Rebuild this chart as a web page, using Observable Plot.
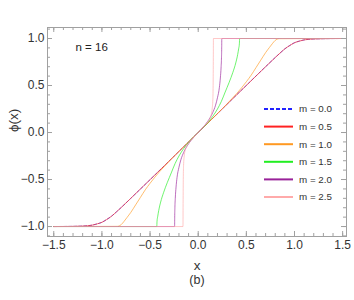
<!DOCTYPE html>
<html><head><meta charset="utf-8">
<script src="https://cdn.jsdelivr.net/npm/d3@7"></script>
<script src="https://cdn.jsdelivr.net/npm/@observablehq/plot@0.6"></script>
<style>
body{margin:0;background:#fff;font-family:"Liberation Sans",Arial,sans-serif}
#wrap{position:relative;width:354px;height:300px}
#legend{position:absolute;left:0;top:0;pointer-events:none}
</style></head><body><div id="wrap"></div>
<script>
// ---- data ----
const seriesLabels = ["m = 0.0","m = 0.5","m = 1.0","m = 1.5","m = 2.0","m = 2.5"];
const seriesColors = ["#2222ff","#ff2222","#ff9922","#22ee22","#992299","#ffaaaa"];
const nLabel = "n = 16";

const m00X = [-1.5,-1.3,-1.2,-1.1,-1.05,-1.0,-0.95,-0.9,-0.85,-0.8,-0.7,0,0.7,0.8,0.85,0.9,0.95,1.0,1.05,1.1,1.2,1.3,1.5];
const m00Y = [-1,-0.998,-0.995,-0.985,-0.972,-0.955,-0.925,-0.89,-0.845,-0.798,-0.7,0,0.7,0.798,0.845,0.89,0.925,0.955,0.972,0.985,0.995,0.998,1];
const m05X = [-1.5,-1.3,-1.2,-1.1,-1.05,-1.0,-0.95,-0.9,-0.85,-0.8,-0.7,0,0.7,0.8,0.85,0.9,0.95,1.0,1.05,1.1,1.2,1.3,1.5];
const m05Y = [-1,-0.998,-0.995,-0.985,-0.972,-0.955,-0.925,-0.89,-0.845,-0.798,-0.7,0,0.7,0.798,0.845,0.89,0.925,0.955,0.972,0.985,0.995,0.998,1];
const m10X = [-1.5,-0.84,-0.80,-0.77,-0.74,-0.70,-0.65,-0.60,-0.55,-0.50,-0.45,-0.40,-0.35,-0.30,-0.20,-0.10,0,0.10,0.20,0.30,0.35,0.40,0.45,0.50,0.55,0.60,0.65,0.70,0.74,0.77,0.80,0.84,1.5];
const m10Y = [-1,-0.998,-0.98,-0.945,-0.905,-0.85,-0.77,-0.69,-0.61,-0.54,-0.475,-0.415,-0.36,-0.305,-0.202,-0.1,0,0.1,0.202,0.305,0.36,0.415,0.475,0.54,0.61,0.69,0.77,0.85,0.905,0.945,0.98,0.998,1];
const m15X = [-1.5,-0.43,-0.428,-0.42,-0.41,-0.39,-0.36,-0.32,-0.28,-0.24,-0.20,-0.15,-0.10,0,0.10,0.15,0.20,0.24,0.28,0.32,0.36,0.39,0.41,0.42,0.428,0.43,1.5];
const m15Y = [-1,-1,-0.95,-0.89,-0.83,-0.74,-0.64,-0.53,-0.43,-0.33,-0.25,-0.17,-0.105,0,0.105,0.17,0.25,0.33,0.43,0.53,0.64,0.74,0.83,0.89,0.95,1,1];
const m20X = [-1.5,-0.245,-0.244,-0.242,-0.238,-0.23,-0.22,-0.20,-0.18,-0.15,-0.10,-0.05,0,0.05,0.10,0.15,0.18,0.20,0.22,0.23,0.238,0.242,0.244,0.245,1.5];
const m20Y = [-1,-1,-0.9,-0.8,-0.7,-0.58,-0.48,-0.37,-0.29,-0.21,-0.12,-0.055,0,0.055,0.12,0.21,0.29,0.37,0.48,0.58,0.7,0.8,0.9,1,1];
const m25X = [-1.5,-0.158,-0.157,-0.155,-0.152,-0.145,-0.13,-0.10,-0.05,0,0.05,0.10,0.13,0.145,0.152,0.155,0.157,0.158,1.5];
const m25Y = [-1,-1,-0.8,-0.5,-0.35,-0.25,-0.17,-0.115,-0.055,0,0.055,0.115,0.17,0.25,0.35,0.5,0.8,1,1];

const xMajor = [-1.5,-1.0,-0.5,0.0,0.5,1.0,1.5];
const xMinor = [-1.5,-1.4,-1.3,-1.2,-1.1,-1.0,-0.9,-0.8,-0.7,-0.6,-0.5,-0.4,-0.3,-0.2,-0.1,0,0.1,0.2,0.3,0.4,0.5,0.6,0.7,0.8,0.9,1.0,1.1,1.2,1.3,1.4,1.5];
const yMajor = [-1.0,-0.5,0.0,0.5,1.0];
const yMinor = [-1.1,-1.0,-0.9,-0.8,-0.7,-0.6,-0.5,-0.4,-0.3,-0.2,-0.1,0,0.1,0.2,0.3,0.4,0.5,0.6,0.7,0.8,0.9,1.0,1.1];

// ---- build table ----
const xsList = [m00X,m05X,m10X,m15X,m20X,m25X];
const ysList = [m00Y,m05Y,m10Y,m15Y,m20Y,m25Y];
const curves = xsList.map((xs,i)=>xs.map((x,j)=>({x, y: ysList[i][j], s: seriesLabels[i]})));

const fmt = d => d3.format(".1f")(d).replace("-","\u2212");
const PH = 209;
const tickCol = "#a0a0a0";
const FF = '"Liberation Sans",Arial,sans-serif';

const lineMarks = curves.map((c,i)=>Plot.line(c,{x:"x",y:"y",stroke:seriesColors[i],strokeWidth:1,
  strokeOpacity: 0.65, strokeDasharray: i===0?"3,2":null, curve:"monotone-x"}));

const plot = Plot.plot({
  width:354, height:300, marginLeft:47, marginRight:8, marginTop:27, marginBottom:64,
  style:{fontFamily:FF, fontSize:"12px", color:"#333", background:"white"},
  x:{domain:[-1.565,1.54]},
  y:{domain:[-1.106,1.117]},
  marks:[
    ...lineMarks,
    Plot.frame({stroke:tickCol}),
    Plot.ruleX(xMinor,{x:d=>d, insetTop:PH-3, stroke:tickCol}),
    Plot.ruleX(xMajor,{x:d=>d, insetTop:PH-5, stroke:tickCol}),
    Plot.ruleX(xMinor,{x:d=>d, insetBottom:PH-3, stroke:tickCol}),
    Plot.ruleX(xMajor,{x:d=>d, insetBottom:PH-5, stroke:tickCol}),
    Plot.ruleY(yMinor,{y:d=>d, insetRight:299-3, stroke:tickCol}),
    Plot.ruleY(yMajor,{y:d=>d, insetRight:299-5, stroke:tickCol}),
    Plot.ruleY(yMinor,{y:d=>d, insetLeft:299-3, stroke:tickCol}),
    Plot.ruleY(yMajor,{y:d=>d, insetLeft:299-5, stroke:tickCol}),
    Plot.axisX(xMajor,{tickSize:0, tickPadding:4, tickFormat:fmt, label:null, fontSize:12, fill:"#333"}),
    Plot.axisY(yMajor,{tickSize:0, tickPadding:3, tickFormat:fmt, label:null, fontSize:12, fill:"#333"}),
    Plot.text([nLabel],{frameAnchor:"top-left", dx:28, dy:15, textAnchor:"start", fontSize:11.5, fill:"#222"}),
    Plot.text(["x"],{frameAnchor:"bottom", dy:33, fontSize:13.5, fill:"#333"}),
    Plot.text(["(b)"],{frameAnchor:"bottom", dy:47, fontSize:12.5, fill:"#333"}),
    Plot.text(["\u03d5(x)"],{frameAnchor:"left", dx:-34, rotate:-90, fontSize:13.5, fill:"#333"})
  ]
});
const wrap = document.getElementById("wrap");
wrap.appendChild(plot);

// legend overlay
const leg = d3.select(wrap).append("svg").attr("id","legend").attr("width",354).attr("height",300);
seriesLabels.forEach((lab,i)=>{
  const y = 109 + i*17.6;
  leg.append("line").attr("x1",264).attr("x2",293).attr("y1",y).attr("y2",y)
    .attr("stroke",seriesColors[i]).attr("stroke-width",2)
    .attr("stroke-dasharray", i===0?"4,2":null);
  leg.append("text").attr("x",299).attr("y",y).attr("dy","0.35em")
    .attr("font-size",9.8).attr("fill","#333")
    .attr("font-family",FF).text(lab);
});
</script></body></html>
